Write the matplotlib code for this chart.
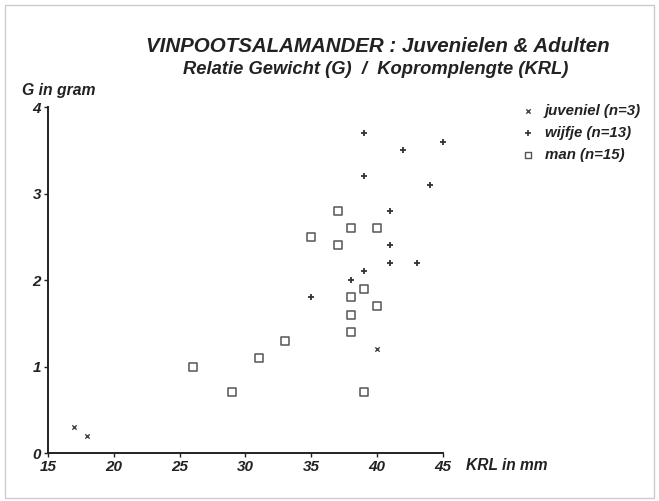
import matplotlib
matplotlib.use("Agg")
import matplotlib.pyplot as plt
from matplotlib.patches import Rectangle

# Kopromplengte (KRL, mm) and weight (G, gram) per group
juv_krl = [17, 18, 40]
juv_g = [0.3, 0.2, 1.2]

wijfje_krl = [39, 42, 45, 39, 44, 41, 41, 41, 43, 39, 38, 35]
wijfje_g = [3.7, 3.5, 3.6, 3.2, 3.1, 2.8, 2.4, 2.2, 2.2, 2.1, 2.0, 1.8]

man_krl = [37, 38, 40, 35, 37, 39, 38, 40, 38, 38, 33, 39, 26, 31, 29]
man_g = [2.8, 2.6, 2.6, 2.5, 2.4, 1.9, 1.8, 1.7, 1.6, 1.4, 1.3, 0.7, 1.0, 1.1, 0.7]

x_ticks = [15, 20, 25, 30, 35, 40, 45]
y_ticks = [0, 1, 2, 3, 4]

legend_labels = ["juveniel (n=3)", "wijfje (n=13)", "man (n=15)"]

FONT = "Liberation Sans"
INK = "#222222"

fig = plt.figure(figsize=(6.59, 5.01), dpi=100)
ax = fig.add_axes([0.0728, 0.0958, 0.5992, 0.6906])

juv_style = dict(marker="x", s=10, linewidths=1.0, color="#444444")
wijfje_style = dict(marker="+", s=22, linewidths=1.3, color="#333333")
man_style = dict(marker="s", s=26, facecolors="white", edgecolors="#555555", linewidths=1.1)

ax.scatter(juv_krl, juv_g, clip_on=False, zorder=3, **juv_style)
ax.scatter(wijfje_krl, wijfje_g, clip_on=False, zorder=3, **wijfje_style)
ax.scatter(man_krl, man_g, clip_on=False, zorder=3, **man_style)

ax.set_xlim(15, 45)
ax.set_ylim(0, 4)
ax.set_xticks(x_ticks)
ax.set_yticks(y_ticks)
ax.set_xticklabels([str(v) for v in x_ticks])
ax.set_yticklabels([str(v) for v in y_ticks])
for lab in ax.get_xticklabels() + ax.get_yticklabels():
    lab.set_fontfamily(FONT)
    lab.set_fontstyle("italic")
    lab.set_fontweight("bold")
    lab.set_fontsize(11)
    lab.set_color(INK)
ax.tick_params(axis="both", direction="out", length=3, width=1, color=INK, pad=2)

for side in ("top", "right"):
    ax.spines[side].set_visible(False)
for side in ("left", "bottom"):
    ax.spines[side].set_linewidth(1.4)
    ax.spines[side].set_color(INK)

text_kw = dict(family=FONT, style="italic", weight="bold", color=INK)

# Titles
fig.text(0.574, 0.907, "VINPOOTSALAMANDER : Juvenielen & Adulten",
         ha="center", va="center", fontsize=14.8, **text_kw)
fig.text(0.570, 0.862, "Relatie Gewicht (G)  /  Kopromplengte (KRL)",
         ha="center", va="center", fontsize=13.2, **text_kw)

# Axis labels
fig.text(0.034, 0.820, "G in gram", ha="left", va="center", fontsize=11.3, **text_kw)
fig.text(0.707, 0.071, "KRL in mm", ha="left", va="center", fontsize=11.2, **text_kw)

# Legend
leg_y = [0.779, 0.735, 0.690]
leg_styles = [dict(juv_style), dict(wijfje_style, s=18, linewidths=1.2),
              dict(man_style, s=20, linewidths=1.0)]
for y, lab, mk in zip(leg_y, legend_labels, leg_styles):
    fig.text(0.827, y, lab, ha="left", va="center", fontsize=10.8, **text_kw)
    ax.scatter([0.801], [y], transform=fig.transFigure, clip_on=False, **mk)

# Faint outer frame
fig.add_artist(Rectangle((0.008, 0.006), 0.984, 0.985, transform=fig.transFigure,
                         fill=False, edgecolor="#cccccc", linewidth=1.0))

fig.savefig("out.png", dpi=100)
